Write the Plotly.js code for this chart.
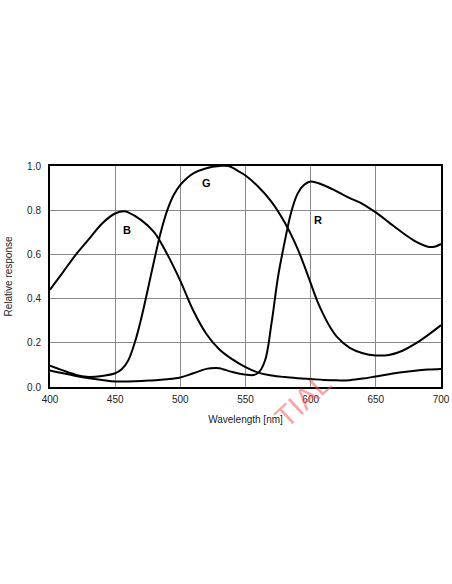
<!DOCTYPE html>
<html>
<head>
<meta charset="utf-8">
<script src="https://cdn.plot.ly/plotly-3.0.1.min.js"></script>
<style>html,body{margin:0;padding:0;background:#fff;}#chart{width:452px;height:584px;}</style>
</head>
<body>
<div id="chart"></div>
<script>
var bWave = [400,410,420,430,440,450,457,460,470,480,490,500,510,520,530,540,550,560,570,580,590,600,610,620,630,640,650,660,670,680,690,700];
var bResp = [0.44,0.52,0.60,0.67,0.74,0.785,0.795,0.79,0.755,0.70,0.60,0.48,0.345,0.24,0.17,0.125,0.09,0.065,0.052,0.045,0.04,0.036,0.032,0.03,0.031,0.038,0.048,0.058,0.067,0.074,0.079,0.082];

var gWave = [400,410,420,428,440,450,455,460,465,470,475,480,485,490,495,500,505,510,520,530,537,545,550,560,570,580,590,595,600,605,610,615,620,630,640,650,660,670,680,690,700];
var gResp = [0.097,0.075,0.055,0.046,0.05,0.062,0.08,0.12,0.2,0.31,0.44,0.575,0.70,0.80,0.87,0.915,0.945,0.967,0.99,1.0,1.0,0.975,0.957,0.905,0.838,0.745,0.625,0.55,0.47,0.39,0.325,0.27,0.228,0.177,0.153,0.143,0.145,0.163,0.195,0.235,0.28];

var rWave = [400,410,420,430,440,450,460,470,480,490,500,510,520,527,530,540,550,556,560,565,570,575,580,585,590,595,600,610,620,630,640,650,660,670,680,690,695,700];
var rResp = [0.075,0.062,0.05,0.04,0.032,0.025,0.025,0.027,0.031,0.035,0.043,0.062,0.082,0.086,0.085,0.068,0.056,0.054,0.065,0.12,0.29,0.50,0.655,0.79,0.875,0.915,0.93,0.913,0.885,0.855,0.828,0.79,0.745,0.70,0.66,0.635,0.635,0.647];

var xTicks = [400,450,500,550,600,650,700];
var yTicks = [0,0.2,0.4,0.6,0.8,1.0];
var yTickText = ['0.0','0.2','0.4','0.6','0.8','1.0'];

var lineStyle = {color:'#000', width:2, shape:'spline', smoothing:1};
var traces = [
  {x:bWave, y:bResp, mode:'lines', line:lineStyle, name:'B', hoverinfo:'skip'},
  {x:gWave, y:gResp, mode:'lines', line:lineStyle, name:'G', hoverinfo:'skip'},
  {x:rWave, y:rResp, mode:'lines', line:lineStyle, name:'R', hoverinfo:'skip'}
];

var font = {family:'"Liberation Sans", Arial, sans-serif', size:10, color:'#222'};
var layout = {
  width:452, height:584,
  margin:{l:50, r:11, t:166, b:197},
  paper_bgcolor:'#fff', plot_bgcolor:'#fff',
  showlegend:false,
  font:font,
  xaxis:{
    range:[400,700], tickvals:xTicks, ticktext:xTicks.map(String),
    showgrid:true, gridcolor:'#8a8a8a', gridwidth:1,
    showline:true, linecolor:'#000', linewidth:2, mirror:true,
    zeroline:false, ticks:'', tickfont:font, ticklabelstandoff:2,
    title:{text:'Wavelength [nm]', font:font, standoff:12}
  },
  yaxis:{
    range:[0,1], tickvals:yTicks, ticktext:yTickText,
    showgrid:true, gridcolor:'#8a8a8a', gridwidth:1,
    showline:true, linecolor:'#000', linewidth:2, mirror:true,
    zeroline:false, ticks:'', tickfont:font, ticklabelstandoff:5,
    title:{text:'Relative response', font:font, standoff:13}
  },
  annotations:[
    {x:459, y:0.71, xref:'x', yref:'y', text:'<b>B</b>', showarrow:false, font:{family:font.family, size:11, color:'#000'}},
    {x:520, y:0.925, xref:'x', yref:'y', text:'<b>G</b>', showarrow:false, font:{family:font.family, size:11, color:'#000'}},
    {x:606, y:0.755, xref:'x', yref:'y', text:'<b>R</b>', showarrow:false, font:{family:font.family, size:11, color:'#000'}},
    {x:0.645, y:-0.06, xref:'paper', yref:'paper', xanchor:'center', yanchor:'middle', text:'TIAL', showarrow:false, textangle:-43,
     font:{family:font.family, size:30, color:'rgba(240,90,90,0.55)'}}
  ]
};
Plotly.newPlot('chart', traces, layout, {displayModeBar:false, staticPlot:true});
</script>
</body>
</html>
